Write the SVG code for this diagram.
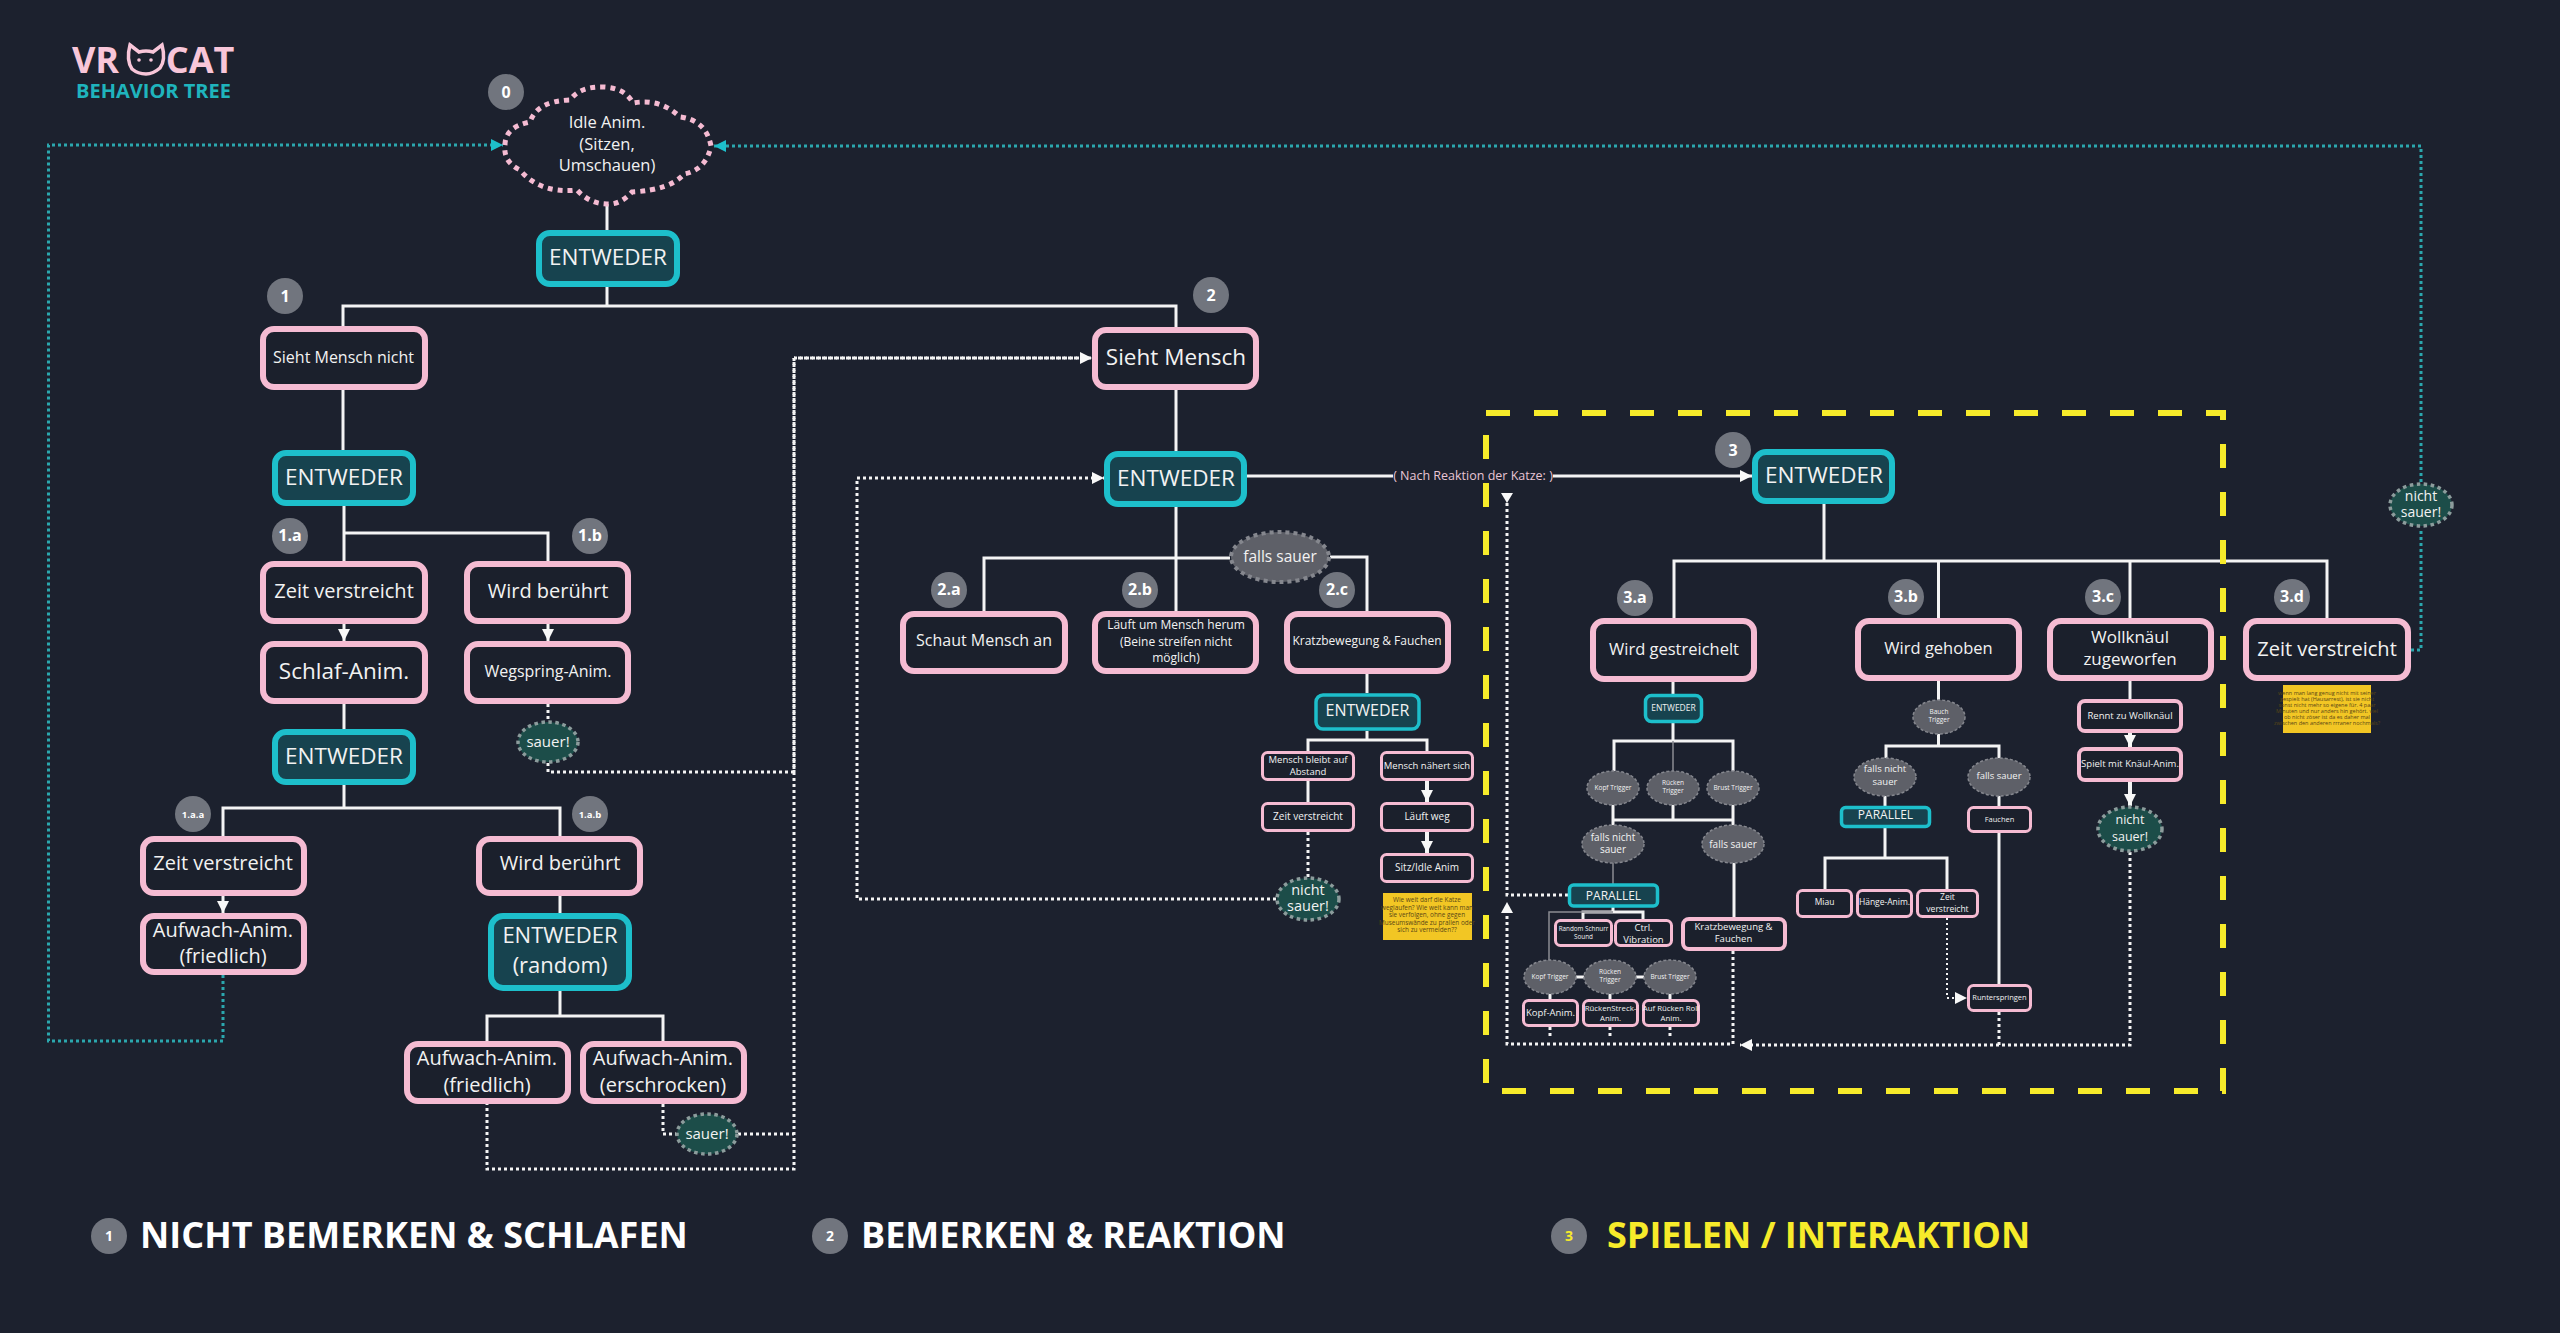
<svg xmlns="http://www.w3.org/2000/svg" width="2560" height="1333" viewBox="0 0 2560 1333">
<style>
text{font-family:"Open Sans","Noto Sans","Liberation Sans",sans-serif;fill:#F2F2F2;text-anchor:middle}
.p{fill:#1B202C;stroke:#F5BBD2;stroke-width:6}
.p4{fill:#1B202C;stroke:#F5BBD2;stroke-width:4}
.p3{fill:#1B202C;stroke:#F5BBD2;stroke-width:3}
.t{fill:#17434F;stroke:#1DBFCB;stroke-width:6}
.t3{fill:#17434F;stroke:#1DBFCB;stroke-width:3.5}
.bd{fill:#71757E}
.bt{font-weight:700;fill:#fff}
.eg{fill:#5E6068;stroke:#85878E;stroke-width:4;stroke-dasharray:4 4}
.eg2{fill:#5E6068;stroke:#85878E;stroke-width:1.5;stroke-dasharray:3 2}
.es{fill:#1C4D49;stroke:#8C9C9C;stroke-width:3.5;stroke-dasharray:3.5 3.5}
.w{fill:none;stroke:#F4F4F4;stroke-width:3}
.w4{fill:none;stroke:#F4F4F4;stroke-width:4}
.g{fill:none;stroke:#8A8C92;stroke-width:1.5}
.d{fill:none;stroke:#F4F4F4;stroke-width:3;stroke-dasharray:3 3}
.dd{fill:none;stroke:#F4F4F4;stroke-width:3;stroke-dasharray:3 3;stroke-dashoffset:2}
.d2{fill:none;stroke:#F4F4F4;stroke-width:2;stroke-dasharray:2 3}
.td{fill:none;stroke:#2BA7AE;stroke-width:3;stroke-dasharray:3 3}
.title{font-weight:700;font-size:36px;fill:#fff;text-anchor:start}
.note{fill:#F2C624}
.nt{fill:#5A4716;font-size:6.4px}
</style>
<defs>
<marker id="aw" markerUnits="userSpaceOnUse" markerWidth="12" markerHeight="12" viewBox="0 0 12 12" refX="12" refY="6" orient="auto"><path d="M0,0L12,6L0,12Z" fill="#F8F8F8"/></marker>
<marker id="at" markerUnits="userSpaceOnUse" markerWidth="12" markerHeight="12" viewBox="0 0 12 12" refX="12" refY="6" orient="auto"><path d="M0,0L12,6L0,12Z" fill="#1DBFCB"/></marker>
</defs>
<rect width="2560" height="1333" fill="#1C212E"/>

<g id="logo">
<text x="95.500" y="73" font-size="36" font-weight="700" style="fill:#F8C6D9">VR</text>
<path d="M130,45 L139,52 Q146,50 153,52 L162,45 Q166,60 160,68 Q153,74 146,74 Q138,74 132,69 Q126,60 130,45Z" fill="none" stroke="#F8C6D9" stroke-width="3.500"/>
<circle cx="139" cy="60" r="1.800" fill="#F8C6D9"/><circle cx="151" cy="60" r="1.800" fill="#F8C6D9"/>
<text x="200" y="73" font-size="36" font-weight="700" style="fill:#F8C6D9">CAT</text>
<text x="153.500" y="98" font-size="20" font-weight="700" style="fill:#1FB4BD">BEHAVIOR TREE</text>
</g>

<g id="connectors">
<path class="w" d="M607,204V230M607,287V306M343,326V306H1176V327M343,390V453M344,506V561M344,533H548V561M344,704V729M344,785V808M223,836V808H560V836M560,896V913M560,991V1016M487,1041V1016H663V1041"/>
<path class="w" d="M344,624V641" marker-end="url(#aw)"/>
<path class="w" d="M548,624V641" marker-end="url(#aw)"/>
<path class="w" d="M223,895V913" marker-end="url(#aw)"/>
<path class="d" d="M548,704V721M548,763V772H794M794,358V1169H487V1104M663,1104V1134H676M738,1134H794"/>
<path class="dd" d="M794,358V772"/>
<path class="dd" d="M794,358H1080"/>
<path class="d" d="M794,358H1092" marker-end="url(#aw)"/>
<path class="td" d="M223,975V1041H48.500V145H503" marker-end="url(#at)"/>
<path class="td" d="M2411,650H2421V528M2421,482V146H714" marker-end="url(#at)"/>
<path class="w" d="M1176,389V451M1176,506V611M984,611V558H1230M1330,557H1367V611M1367,674V693M1308,751V740H1427V751M1367,731V740M1308,781V802"/>
<path class="w" d="M1247,476H1393"/>
<path class="w" d="M1553,476H1752" marker-end="url(#aw)"/>
<path class="d" d="M1276,899H857V478H1104" marker-end="url(#aw)"/>
<path class="d" d="M1308,832V877"/>
<path class="w4" d="M1427,781V802" marker-end="url(#aw)"/>
<path class="w4" d="M1427,832V853" marker-end="url(#aw)"/>
<path class="w" d="M1824,504V561M1674,618V561H2327V618M1938.500,561V618M2130,561V618"/>
<path class="w" d="M1673,682V694M1673,723V741M1614,771V741H1733V771M1613,805V825M1673,805V820M1733,805V825M1613,820H1733M1734,863V917M1613,907V912M1583,919V912H1643V919M1576,977H1584M1636,977H1644M1550,994V999M1610,994V999M1670,994V999"/>
<path class="g" d="M1673,741V771M1613,863V884M1613,912H1549V960"/>
<path class="d" d="M1550,1027V1036M1610,1027V1036M1670,1027V1036M1733,951V1044H1507V907"/>
<path d="M1507,902L1513,913H1501Z" fill="#F8F8F8"/>
<path class="d" d="M1568,895H1507V503"/>
<path d="M1507,503L1501,493H1513Z" fill="#F8F8F8"/>
<path class="d" d="M2130,852V1045H1740" marker-end="url(#aw)"/>
<path class="d" d="M1999,1012V1045"/>
<path class="w" d="M1938.500,681V700M1938.500,734V746M1886,758V746H1999V758M1885,796V806M1999,796V806M1885,827V858M1825,889V858H1947V889M1999,833V984"/>
<path class="d2" d="M1947,918V998H1967" marker-end="url(#aw)"/>
<path class="w" d="M2130,681V699"/>
<path class="w4" d="M2130,733V747" marker-end="url(#aw)"/>
<path class="w4" d="M2130,782V806" marker-end="url(#aw)"/>
</g>

<rect id="section-3" x="1486" y="413" width="737" height="678" fill="none" stroke="#F7EB2A" stroke-width="6" stroke-dasharray="24 24"/>

<g id="n0"><circle class="bd" cx="506" cy="92" r="18"/><text class="bt" x="506" y="98" font-size="16">0</text>
<path d="M505,145Q505,127 530,122Q537,101 570,100Q580,86 604,87Q625,88 633,103Q660,98 680,117Q706,120 711,146Q706,170 684,174Q670,190 632,192Q620,205 607,204Q590,204 577,190Q540,194 520,170Q503,162 505,145Z" fill="#1C212E" stroke="#F5BBD2" stroke-width="5" stroke-dasharray="5 5"/>
<text font-size="16.500"><tspan x="607" y="128">Idle Anim.</tspan><tspan x="607" y="150">(Sitzen,</tspan><tspan x="607" y="171">Umschauen)</tspan></text></g>
<g id="e0"><rect class="t" x="539" y="233" width="138" height="51" rx="11"/><text x="608" y="265" font-size="22.500">ENTWEDER</text></g>

<g id="n1"><circle class="bd" cx="285" cy="296" r="18"/><text class="bt" x="285" y="302" font-size="16">1</text>
<rect class="p" x="263" y="329" width="162" height="58" rx="11"/><text x="343.500" y="363" font-size="16">Sieht Mensch nicht</text></g>
<g id="e1"><rect class="t" x="275" y="453" width="138" height="50" rx="11"/><text x="344" y="484.500" font-size="22.500">ENTWEDER</text></g>
<g id="n1a"><circle class="bd" cx="290" cy="536" r="18"/><text class="bt" x="290" y="541" font-size="16">1.a</text>
<rect class="p" x="263" y="564" width="162" height="57" rx="11"/><text x="344" y="598" font-size="20">Zeit verstreicht</text></g>
<g id="n1b"><circle class="bd" cx="590" cy="536" r="18"/><text class="bt" x="590" y="541" font-size="16">1.b</text>
<rect class="p" x="467" y="564" width="161" height="57" rx="11"/><text x="548" y="598" font-size="20">Wird berührt</text></g>
<g id="n-schlaf"><rect class="p" x="263" y="644" width="162" height="57" rx="11"/><text x="344" y="679" font-size="22.500">Schlaf-Anim.</text></g>
<g id="n-wegspring"><rect class="p" x="467" y="644" width="161" height="57" rx="11"/><text x="548" y="677" font-size="16">Wegspring-Anim.</text></g>
<g id="s1"><ellipse class="es" cx="548" cy="742" rx="30" ry="20"/><text x="548" y="747" font-size="15">sauer!</text></g>
<g id="e1a"><rect class="t" x="275" y="732" width="138" height="50" rx="11"/><text x="344" y="763.500" font-size="22.500">ENTWEDER</text></g>
<g id="n1aa"><circle class="bd" cx="193" cy="814" r="18"/><text class="bt" x="193" y="818" font-size="9.500">1.a.a</text>
<rect class="p" x="143" y="839" width="161" height="54" rx="11"/><text x="223" y="870" font-size="20">Zeit verstreicht</text></g>
<g id="n1ab"><circle class="bd" cx="590" cy="814" r="18"/><text class="bt" x="590" y="818" font-size="9.500">1.a.b</text>
<rect class="p" x="479" y="839" width="161" height="54" rx="11"/><text x="560" y="870" font-size="20">Wird berührt</text></g>
<g id="n-auf1"><rect class="p" x="143" y="916" width="161" height="56" rx="11"/><text font-size="20"><tspan x="223" y="937">Aufwach-Anim.</tspan><tspan x="223" y="963">(friedlich)</tspan></text></g>
<g id="e-random"><rect class="t" x="491" y="916" width="138" height="72" rx="12"/><text font-size="22"><tspan x="560" y="943">ENTWEDER</tspan><tspan x="560" y="973">(random)</tspan></text></g>
<g id="n-auf2"><rect class="p" x="407" y="1044" width="161" height="57" rx="11"/><text font-size="20"><tspan x="487" y="1065">Aufwach-Anim.</tspan><tspan x="487" y="1092">(friedlich)</tspan></text></g>
<g id="n-auf3"><rect class="p" x="583" y="1044" width="161" height="57" rx="11"/><text font-size="20"><tspan x="663" y="1065">Aufwach-Anim.</tspan><tspan x="663" y="1092">(erschrocken)</tspan></text></g>
<g id="s2"><ellipse class="es" cx="707" cy="1134" rx="30" ry="20"/><text x="707" y="1139" font-size="15">sauer!</text></g>

<g id="n2"><circle class="bd" cx="1211" cy="295" r="18"/><text class="bt" x="1211" y="301" font-size="16">2</text>
<rect class="p" x="1095" y="330" width="161" height="57" rx="11"/><text x="1176" y="365" font-size="22.500">Sieht Mensch</text></g>
<g id="e2"><rect class="t" x="1107" y="454" width="137" height="50" rx="11"/><text x="1176" y="485.500" font-size="22.500">ENTWEDER</text></g>
<text x="1473" y="480" font-size="12.500" style="fill:#E8C5D5">( Nach Reaktion der Katze: )</text>
<g id="fs1"><ellipse class="eg" cx="1280" cy="557" rx="49" ry="25"/><text x="1280" y="562" font-size="15.500">falls sauer</text></g>
<g id="n2a"><circle class="bd" cx="949" cy="590" r="18"/><text class="bt" x="949" y="595" font-size="16">2.a</text>
<rect class="p" x="903" y="614" width="162" height="57" rx="11"/><text x="984" y="646" font-size="16">Schaut Mensch an</text></g>
<g id="n2b"><circle class="bd" cx="1140" cy="590" r="18"/><text class="bt" x="1140" y="595" font-size="16">2.b</text>
<rect class="p" x="1095" y="614" width="161" height="57" rx="11"/><text font-size="12"><tspan x="1176" y="629">Läuft um Mensch herum</tspan><tspan x="1176" y="646">(Beine streifen nicht</tspan><tspan x="1176" y="662">möglich)</tspan></text></g>
<g id="n2c"><circle class="bd" cx="1337" cy="590" r="18"/><text class="bt" x="1337" y="595" font-size="16">2.c</text>
<rect class="p" x="1287" y="614" width="161" height="57" rx="11"/><text x="1367" y="645" font-size="12">Kratzbewegung &amp; Fauchen</text></g>
<g id="e2c"><rect class="t3" x="1316" y="695" width="103" height="34" rx="7"/><text x="1367.500" y="716" font-size="16">ENTWEDER</text></g>
<g id="n-bleibt"><rect class="p3" x="1262.500" y="752.500" width="91" height="27" rx="5"/><text font-size="9.500"><tspan x="1308" y="763">Mensch bleibt auf</tspan><tspan x="1308" y="775">Abstand</tspan></text></g>
<g id="n-naehert"><rect class="p3" x="1381.500" y="752.500" width="91" height="27" rx="5"/><text x="1427" y="769" font-size="9.500">Mensch nähert sich</text></g>
<g id="n-zeit2"><rect class="p3" x="1262.500" y="803.500" width="91" height="27" rx="5"/><text x="1308" y="820" font-size="10">Zeit verstreicht</text></g>
<g id="n-weg"><rect class="p3" x="1381.500" y="803.500" width="91" height="27" rx="5"/><text x="1427" y="820" font-size="10">Läuft weg</text></g>
<g id="n-sitz"><rect class="p3" x="1381.500" y="854.500" width="91" height="27" rx="5"/><text x="1427" y="871" font-size="10">Sitz/Idle Anim</text></g>
<g id="note1"><rect class="note" x="1383" y="893" width="89" height="47"/><text class="nt"><tspan x="1427" y="902">Wie weit darf die Katze</tspan><tspan x="1427" y="910">weglaufen? Wie weit kann man</tspan><tspan x="1427" y="917">sie verfolgen, ohne gegen</tspan><tspan x="1427" y="925">Museumswände zu prallen oder</tspan><tspan x="1427" y="932">sich zu vermeiden??</tspan></text></g>
<g id="s3"><ellipse class="es" cx="1308" cy="899" rx="31" ry="21"/><text font-size="14.500"><tspan x="1308" y="895">nicht</tspan><tspan x="1308" y="911">sauer!</tspan></text></g>

<g id="n3"><circle class="bd" cx="1733" cy="450" r="18"/><text class="bt" x="1733" y="456" font-size="16">3</text>
<rect class="t" x="1755" y="452" width="137" height="49" rx="11"/><text x="1824" y="483" font-size="22.500">ENTWEDER</text></g>
<g id="n3a"><circle class="bd" cx="1635" cy="598" r="18"/><text class="bt" x="1635" y="603" font-size="16">3.a</text>
<rect class="p" x="1593" y="621" width="161" height="58" rx="11"/><text x="1674" y="655" font-size="16.500">Wird gestreichelt</text></g>
<g id="n3b"><circle class="bd" cx="1906" cy="597" r="18"/><text class="bt" x="1906" y="602" font-size="16">3.b</text>
<rect class="p" x="1858" y="621" width="161" height="57" rx="11"/><text x="1938.500" y="654" font-size="16.500">Wird gehoben</text></g>
<g id="n3c"><circle class="bd" cx="2103" cy="597" r="18"/><text class="bt" x="2103" y="602" font-size="16">3.c</text>
<rect class="p" x="2050" y="621" width="161" height="57" rx="11"/><text font-size="17"><tspan x="2130" y="643">Wollknäul</tspan><tspan x="2130" y="665">zugeworfen</tspan></text></g>
<g id="n3d"><circle class="bd" cx="2292" cy="597" r="18"/><text class="bt" x="2292" y="602" font-size="16">3.d</text>
<rect class="p" x="2246" y="621" width="162" height="57" rx="11"/><text x="2327" y="656" font-size="20">Zeit verstreicht</text></g>
<g id="note2"><rect class="note" x="2283" y="685" width="88" height="48"/><text class="nt" style="font-size:5.500px"><tspan x="2327" y="695">wenn man lang genug nicht mit seiner</tspan><tspan x="2327" y="701">gespielt hat (Hausarrest), ist sie nicht</tspan><tspan x="2327" y="707">sonst nicht mehr so eigene für. 4 paar</tspan><tspan x="2327" y="713">Minuten und nur anders hin gehört. viel</tspan><tspan x="2327" y="719">ob nicht zöser ist da es daher mal</tspan><tspan x="2327" y="725">zwischen den anderen rrraner nochmals?</tspan></text></g>
<g id="s4"><ellipse class="es" cx="2421" cy="505" rx="31" ry="21"/><text font-size="14"><tspan x="2421" y="501">nicht</tspan><tspan x="2421" y="517">sauer!</tspan></text></g>

<g id="e3a"><rect class="t3" x="1645.500" y="695.500" width="56" height="26" rx="6"/><text x="1673.500" y="711" font-size="8.500">ENTWEDER</text></g>
<g id="t1"><ellipse class="eg2" cx="1613" cy="788" rx="26" ry="17"/><text x="1613" y="790" font-size="6.500">Kopf Trigger</text></g>
<g id="t2"><ellipse class="eg2" cx="1673" cy="788" rx="26" ry="17"/><text font-size="6.500"><tspan x="1673" y="785">Rücken</tspan><tspan x="1673" y="793">Trigger</tspan></text></g>
<g id="t3"><ellipse class="eg2" cx="1733" cy="788" rx="26" ry="17"/><text x="1733" y="790" font-size="6.500">Brust Trigger</text></g>
<g id="f1"><ellipse class="eg2" cx="1613" cy="844" rx="31" ry="19"/><text font-size="10"><tspan x="1613" y="841">falls nicht</tspan><tspan x="1613" y="853">sauer</tspan></text></g>
<g id="f2"><ellipse class="eg2" cx="1733" cy="844" rx="31" ry="19"/><text x="1733" y="848" font-size="10">falls sauer</text></g>
<g id="par1"><rect class="t3" x="1569.500" y="885" width="88" height="21" rx="4"/><text x="1613.500" y="899.500" font-size="12">PARALLEL</text></g>
<g id="n-schnurr"><rect class="p3" x="1555.500" y="920.500" width="56" height="25" rx="5"/><text font-size="6.300"><tspan x="1583.500" y="931">Random Schnurr</tspan><tspan x="1583.500" y="939">Sound</tspan></text></g>
<g id="n-vib"><rect class="p3" x="1615.500" y="920.500" width="56" height="25" rx="5"/><text font-size="9.500"><tspan x="1643.500" y="931">Ctrl.</tspan><tspan x="1643.500" y="943">Vibration</tspan></text></g>
<g id="n-kratz2"><rect class="p4" x="1683" y="919" width="102" height="30" rx="6"/><text font-size="9.500"><tspan x="1733.500" y="930">Kratzbewegung &amp;</tspan><tspan x="1733.500" y="942">Fauchen</tspan></text></g>
<g id="t4"><ellipse class="eg2" cx="1550" cy="977" rx="26" ry="17"/><text x="1550" y="979" font-size="6.500">Kopf Trigger</text></g>
<g id="t5"><ellipse class="eg2" cx="1610" cy="977" rx="26" ry="17"/><text font-size="6.500"><tspan x="1610" y="974">Rücken</tspan><tspan x="1610" y="982">Trigger</tspan></text></g>
<g id="t6"><ellipse class="eg2" cx="1670" cy="977" rx="26" ry="17"/><text x="1670" y="979" font-size="6.500">Brust Trigger</text></g>
<g id="n-kopf"><rect class="p3" x="1523.500" y="1000.500" width="54" height="25" rx="5"/><text x="1550.500" y="1016" font-size="9.500">Kopf-Anim.</text></g>
<g id="n-ruecken"><rect class="p3" x="1583.500" y="1000.500" width="54" height="25" rx="5"/><text font-size="7.800"><tspan x="1610.500" y="1011">RückenStreck-</tspan><tspan x="1610.500" y="1021">Anim.</tspan></text></g>
<g id="n-roll"><rect class="p3" x="1643.500" y="1000.500" width="55" height="25" rx="5"/><text font-size="7.800"><tspan x="1671" y="1011">Auf Rücken Roll</tspan><tspan x="1671" y="1021">Anim.</tspan></text></g>

<g id="t7"><ellipse class="eg2" cx="1939" cy="717" rx="26" ry="17"/><text font-size="6.500"><tspan x="1939" y="714">Bauch</tspan><tspan x="1939" y="722">Trigger</tspan></text></g>
<g id="f3"><ellipse class="eg2" cx="1885" cy="777" rx="31" ry="19"/><text font-size="9.500"><tspan x="1885" y="772">falls nicht</tspan><tspan x="1885" y="785">sauer</tspan></text></g>
<g id="f4"><ellipse class="eg2" cx="1999" cy="777" rx="31" ry="19"/><text x="1999" y="779" font-size="9.500">falls sauer</text></g>
<g id="par2"><rect class="t3" x="1841.500" y="807.500" width="88" height="19" rx="4"/><text x="1885.500" y="819" font-size="12">PARALLEL</text></g>
<g id="n-fauchen"><rect class="p3" x="1968.500" y="807.500" width="62" height="24" rx="5"/><text x="1999.500" y="822" font-size="7.500">Fauchen</text></g>
<g id="n-miau"><rect class="p3" x="1797.500" y="890.500" width="54" height="26" rx="5"/><text x="1824.500" y="905" font-size="8.500">Miau</text></g>
<g id="n-haenge"><rect class="p3" x="1857.500" y="890.500" width="54" height="26" rx="5"/><text x="1884.500" y="905" font-size="8.500">Hänge-Anim.</text></g>
<g id="n-zeit3"><rect class="p3" x="1917.500" y="890.500" width="60" height="26" rx="5"/><text font-size="8.500"><tspan x="1947.500" y="900">Zeit</tspan><tspan x="1947.500" y="912">verstreicht</tspan></text></g>
<g id="n-runter"><rect class="p3" x="1968.500" y="985.500" width="62" height="25" rx="5"/><text x="1999.500" y="1000" font-size="7.500">Runterspringen</text></g>
<g id="n-rennt"><rect class="p4" x="2079" y="701" width="102" height="30" rx="6"/><text x="2130" y="719" font-size="9.500">Rennt zu Wollknäul</text></g>
<g id="n-spielt"><rect class="p4" x="2079" y="749" width="102" height="31" rx="6"/><text x="2130" y="767" font-size="9.500">Spielt mit Knäul-Anim.</text></g>
<g id="s5"><ellipse class="es" cx="2130" cy="829" rx="32" ry="22"/><text font-size="12.500"><tspan x="2130" y="824">nicht</tspan><tspan x="2130" y="841">sauer!</tspan></text></g>

<g id="legend">
<circle class="bd" cx="109" cy="1236" r="18"/><text class="bt" x="109" y="1241" font-size="14">1</text>
<text class="title" x="140" y="1248">NICHT BEMERKEN &amp; SCHLAFEN</text>
<circle class="bd" cx="830" cy="1236" r="18"/><text class="bt" x="830" y="1241" font-size="14">2</text>
<text class="title" x="861" y="1248">BEMERKEN &amp; REAKTION</text>
<circle class="bd" cx="1569" cy="1236" r="18"/><text class="bt" x="1569" y="1241" font-size="14" style="fill:#F7EB2A">3</text>
<text class="title" x="1607" y="1248" style="fill:#F7EB2A">SPIELEN / INTERAKTION</text>
</g>
</svg>
